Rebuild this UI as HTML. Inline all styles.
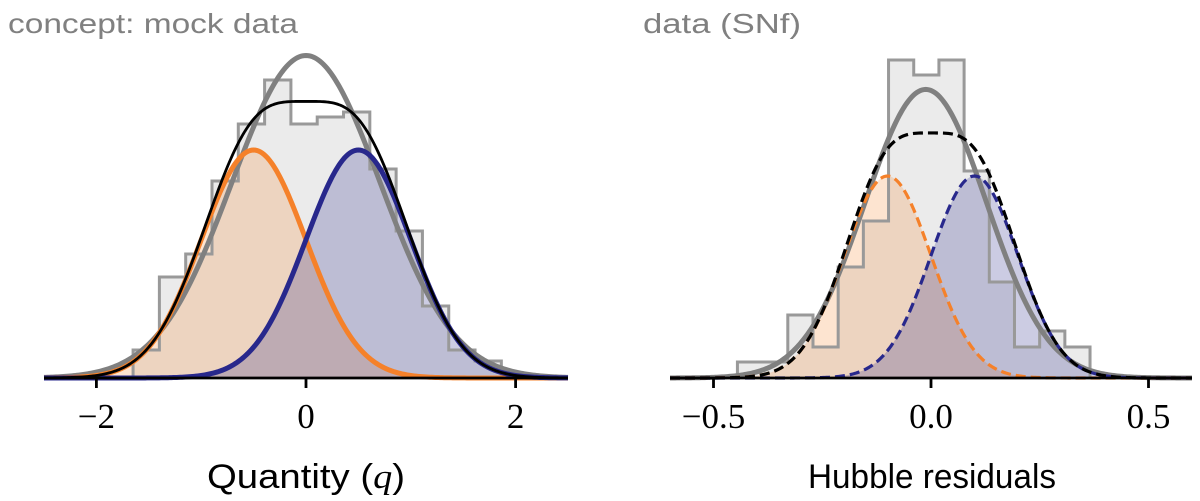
<!DOCTYPE html>
<html><head><meta charset="utf-8"><style>
html,body{margin:0;padding:0;background:#fff;}
svg{display:block;}
text{font-family:"Liberation Sans",sans-serif;}
.tick{font-family:"Liberation Serif",serif;font-size:35px;fill:#000;text-anchor:middle;}
</style></head><body>
<svg id="chart" width="1200" height="501" viewBox="0 0 1200 501" xmlns="http://www.w3.org/2000/svg">
<g id="left"></g>
<g id="right"></g>
<text x="8" y="33" font-size="28" fill="#808080" textLength="290" lengthAdjust="spacingAndGlyphs">concept: mock data</text>
<text x="643" y="33" font-size="28" fill="#808080" textLength="158" lengthAdjust="spacingAndGlyphs">data (SNf)</text>
<text x="306" y="488" font-size="34" text-anchor="middle" textLength="198" lengthAdjust="spacingAndGlyphs">Quantity (<tspan font-family="Liberation Serif" font-style="italic">q</tspan>)</text>
<text x="932" y="488" font-size="34" text-anchor="middle" textLength="248" lengthAdjust="spacingAndGlyphs">Hubble residuals</text>
</svg>
<script>
// ---- Left panel data ----
const leftTicks = [-2, 0, 2];
const leftTickLabels = ["−2", "0", "2"];
const leftHistStart = -1.65;
const leftBinWidth = 0.251;
const leftHistCounts = [28, 101, 124, 197, 254, 298, 254, 261, 266, 209, 147, 72, 28, 17];
const leftMeans = [-0.5, 0.5];
const leftSigma = 0.5;
const leftPeak = 228;
const leftTotalSigma = 0.707;
const leftTotalMean = 0;
// ---- Right panel data ----
const rightTicks = [-0.5, 0.0, 0.5];
const rightTickLabels = ["−0.5", "0.0", "0.5"];
const rightHistStart = -0.445;
const rightBinWidth = 0.0579;
const rightHistCounts = [16, 16, 63, 31, 111, 157, 318, 303, 318, 207, 96, 31, 47, 31];
const rightMeans = [-0.1, 0.1];
const rightSigma = 0.1;
const rightPeak = 202;
const rightTotalSigma = 0.14;
const rightTotalMean = -0.012;

const NS = "http://www.w3.org/2000/svg";
function mk(parent, tag, attrs){const e=document.createElementNS(NS,tag);for(const k in attrs)e.setAttribute(k,attrs[k]);parent.appendChild(e);return e;}
const gauss=(x,m,s)=>Math.exp(-0.5*((x-m)/s)**2);

function panel(g, o){
  const X=v=>o.x0+(v-o.xmin)/(o.xmax-o.xmin)*(o.x1-o.x0);
  const Y=h=>o.base-h;
  const N=300, xs=[];
  for(let i=0;i<=N;i++) xs.push(o.xmin+(o.xmax-o.xmin)*i/N);
  let d=`M${X(o.hs)},${Y(0)}`;
  o.counts.forEach((c,i)=>{const a=o.hs+i*o.bw,b=a+o.bw;d+=` L${X(a)},${Y(c)} L${X(b)},${Y(c)}`;});
  d+=` L${X(o.hs+o.counts.length*o.bw)},${Y(0)}`;
  const hf=mk(g,'path',{d:d+'Z',fill:'#ebebeb',stroke:'none'});
  
  
  const colors=['#f5812a','#28288c'], fills=['rgba(245,130,42,0.22)','rgba(40,40,140,0.24)'];
  const names=['orange-component','blue-component'];
  o.means.forEach((m,k)=>{
    let p=`M${X(xs[0])},${Y(0)}`;
    xs.forEach(x=>p+=` L${X(x)},${Y(o.peak*gauss(x,m,o.sig))}`);
    const f=mk(g,'path',{d:p+` L${X(xs[N])},${Y(0)}Z`,fill:fills[k]});
    
    
  });
  const ho=mk(g,'path',{d,fill:'none',stroke:'#999',"stroke-width":3});
  
  
  const gp=o.peak*2*o.sig/o.tsig;
  let t='';xs.forEach((x,i)=>t+=(i?' L':'M')+X(x)+','+Y(gp*gauss(x,o.tmean,o.tsig)));
  const tc=mk(g,'path',{d:t,fill:'none',stroke:'#808080',"stroke-width":5});
  
  
  o.means.forEach((m,k)=>{
    let p='';xs.forEach((x,i)=>p+=(i?' L':'M')+X(x)+','+Y(o.peak*gauss(x,m,o.sig)));
    const c=mk(g,'path',{d:p,fill:'none',stroke:colors[k],"stroke-width":o.dash?3.2:5,"stroke-dasharray":o.dash?'10,5':'none'});
    
    
  });
  let s='';xs.forEach((x,i)=>{let v=0;o.means.forEach(m=>v+=o.peak*gauss(x,m,o.sig));s+=(i?' L':'M')+X(x)+','+Y(v);});
  const sc=mk(g,'path',{d:s,fill:'none',stroke:'#000',"stroke-width":o.dash?3.2:2.8,"stroke-dasharray":o.dash?'10,5':'none'});
  
  
  const ax=mk(g,'line',{x1:o.x0,x2:o.x1,y1:o.base,y2:o.base,stroke:'#000',"stroke-width":2.8});
  
  
  o.ticks.forEach((v,i)=>{
    const tk=mk(g,'line',{x1:X(v),x2:X(v),y1:o.base,y2:o.base+10,stroke:'#000',"stroke-width":2.8});
    
    
    const tl=mk(g,'text',{x:X(v),y:428,class:'tick'});
    tl.textContent=o.labels[i];
    
    
  });
}
panel(document.getElementById('left'),{x0:44,x1:568,xmin:-2.5,xmax:2.5,base:378,hs:leftHistStart,bw:leftBinWidth,counts:leftHistCounts,means:leftMeans,sig:leftSigma,peak:leftPeak,tsig:leftTotalSigma,tmean:leftTotalMean,ticks:leftTicks,labels:leftTickLabels,dash:false});
panel(document.getElementById('right'),{x0:670,x1:1192,xmin:-0.6,xmax:0.6,base:378,hs:rightHistStart,bw:rightBinWidth,counts:rightHistCounts,means:rightMeans,sig:rightSigma,peak:rightPeak,tsig:rightTotalSigma,tmean:rightTotalMean,ticks:rightTicks,labels:rightTickLabels,dash:true});
</script>
</body></html>
